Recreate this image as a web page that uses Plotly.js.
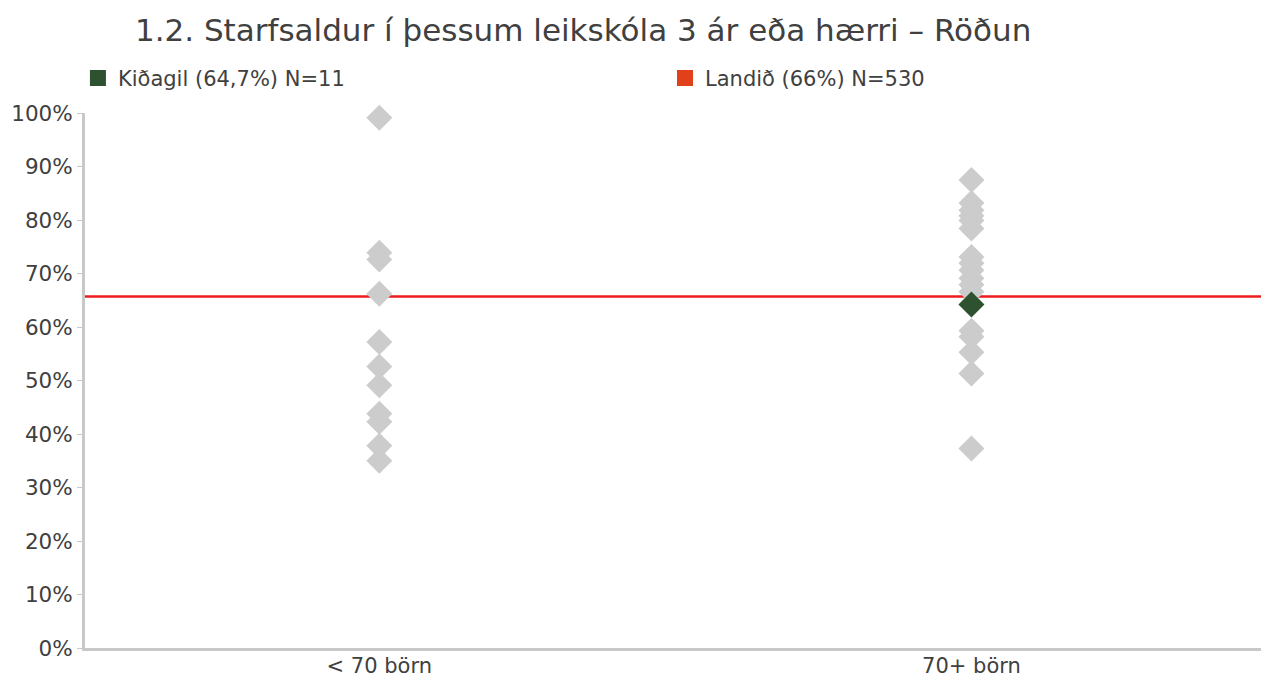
<!DOCTYPE html>
<html>
<head>
<meta charset="utf-8">
<script src="https://cdn.plot.ly/plotly-3.0.1.min.js"></script>
<style>html,body{margin:0;padding:0;background:#fff;}#chart{width:1261px;height:678px;}</style>
</head>
<body>
<div id="chart"></div>
<script>
const categories = ["< 70 börn", "70+ börn"];
const smallSchools = [99.1, 73.9, 72.6, 66.2, 57.2, 52.6, 49.1, 43.8, 42.3, 37.8, 35.0];
const largeSchools = [87.5, 83.2, 81.8, 80.8, 79.9, 78.4, 73.1, 71.9, 70.6, 69.1, 67.9, 66.6, 59.3, 58.2, 55.3, 51.3, 37.3];
const highlightCategory = ["70+ börn"];
const highlightValue = [64.2];
const nationalValue = 65.7;
const legendNames = ["Kiðagil (64,7%) N=11", "Landið (66%) N=530"];
const title = "1.2. Starfsaldur í þessum leikskóla 3 ár eða hærri – Röðun";

const grey = "#cccccc";
const green = "#2e5230";
const red = "#e0401a";
const font = "'DejaVu Sans', 'Open Sans', sans-serif";
const txt = "#404040";

const traces = [
  {x: smallSchools.map(() => categories[0]), y: smallSchools, type: "scatter", mode: "markers", cliponaxis: false,
   marker: {symbol: "diamond", size: 20, color: grey}, showlegend: false, hoverinfo: "y"},
  {x: largeSchools.map(() => categories[1]), y: largeSchools, type: "scatter", mode: "markers", cliponaxis: false,
   marker: {symbol: "diamond", size: 20, color: grey}, showlegend: false, hoverinfo: "y"},
  {x: highlightCategory, y: highlightValue, type: "scatter", mode: "markers", cliponaxis: false,
   marker: {symbol: "diamond", size: 20, color: green}, showlegend: false, hoverinfo: "y"},
  {x: [null], y: [null], type: "scatter", mode: "markers", name: legendNames[0], legend: "legend",
   marker: {symbol: "square", size: 16, color: green}},
  {x: [null], y: [null], type: "scatter", mode: "markers", name: legendNames[1], legend: "legend2",
   marker: {symbol: "square", size: 16, color: red}}
];

const legendBase = {orientation: "h", yanchor: "middle", y: 1.065, xanchor: "left", itemwidth: 30,
  font: {family: font, size: 21, color: txt}, bgcolor: "rgba(0,0,0,0)", borderwidth: 0};

const layout = {
  width: 1261, height: 678,
  margin: {l: 85, r: 0, t: 113, b: 30},
  paper_bgcolor: "#fff", plot_bgcolor: "#fff",
  font: {family: font, color: txt, size: 21},
  title: {text: title, x: 0.107, xanchor: "left", y: 0.955, yanchor: "middle",
          font: {family: font, size: 31, color: txt}},
  showlegend: true,
  legend: Object.assign({}, legendBase, {x: -0.006}),
  legend2: Object.assign({}, legendBase, {x: 0.4932}),
  xaxis: {type: "category", categoryarray: categories, range: [-0.497, 1.489],
          showline: true, linecolor: "#c8c8c8", linewidth: 3, showgrid: false, zeroline: false,
          ticks: "", ticklabelstandoff: -3, tickfont: {size: 21, color: txt}},
  yaxis: {range: [0, 100], dtick: 10, ticksuffix: "%", showline: true, linecolor: "#c8c8c8",
          linewidth: 3, showgrid: false, zeroline: false, ticks: "outside", ticklen: 5,
          tickcolor: "#c8c8c8", tickwidth: 1, tickfont: {size: 21.5, color: txt}},
  shapes: [{type: "line", xref: "paper", x0: 0, x1: 1, yref: "y", y0: nationalValue, y1: nationalValue,
            line: {color: "#ee1c1c", width: 2.5}, layer: "below"}]
};

Plotly.newPlot("chart", traces, layout, {displayModeBar: false, staticPlot: true});
</script>
</body>
</html>
